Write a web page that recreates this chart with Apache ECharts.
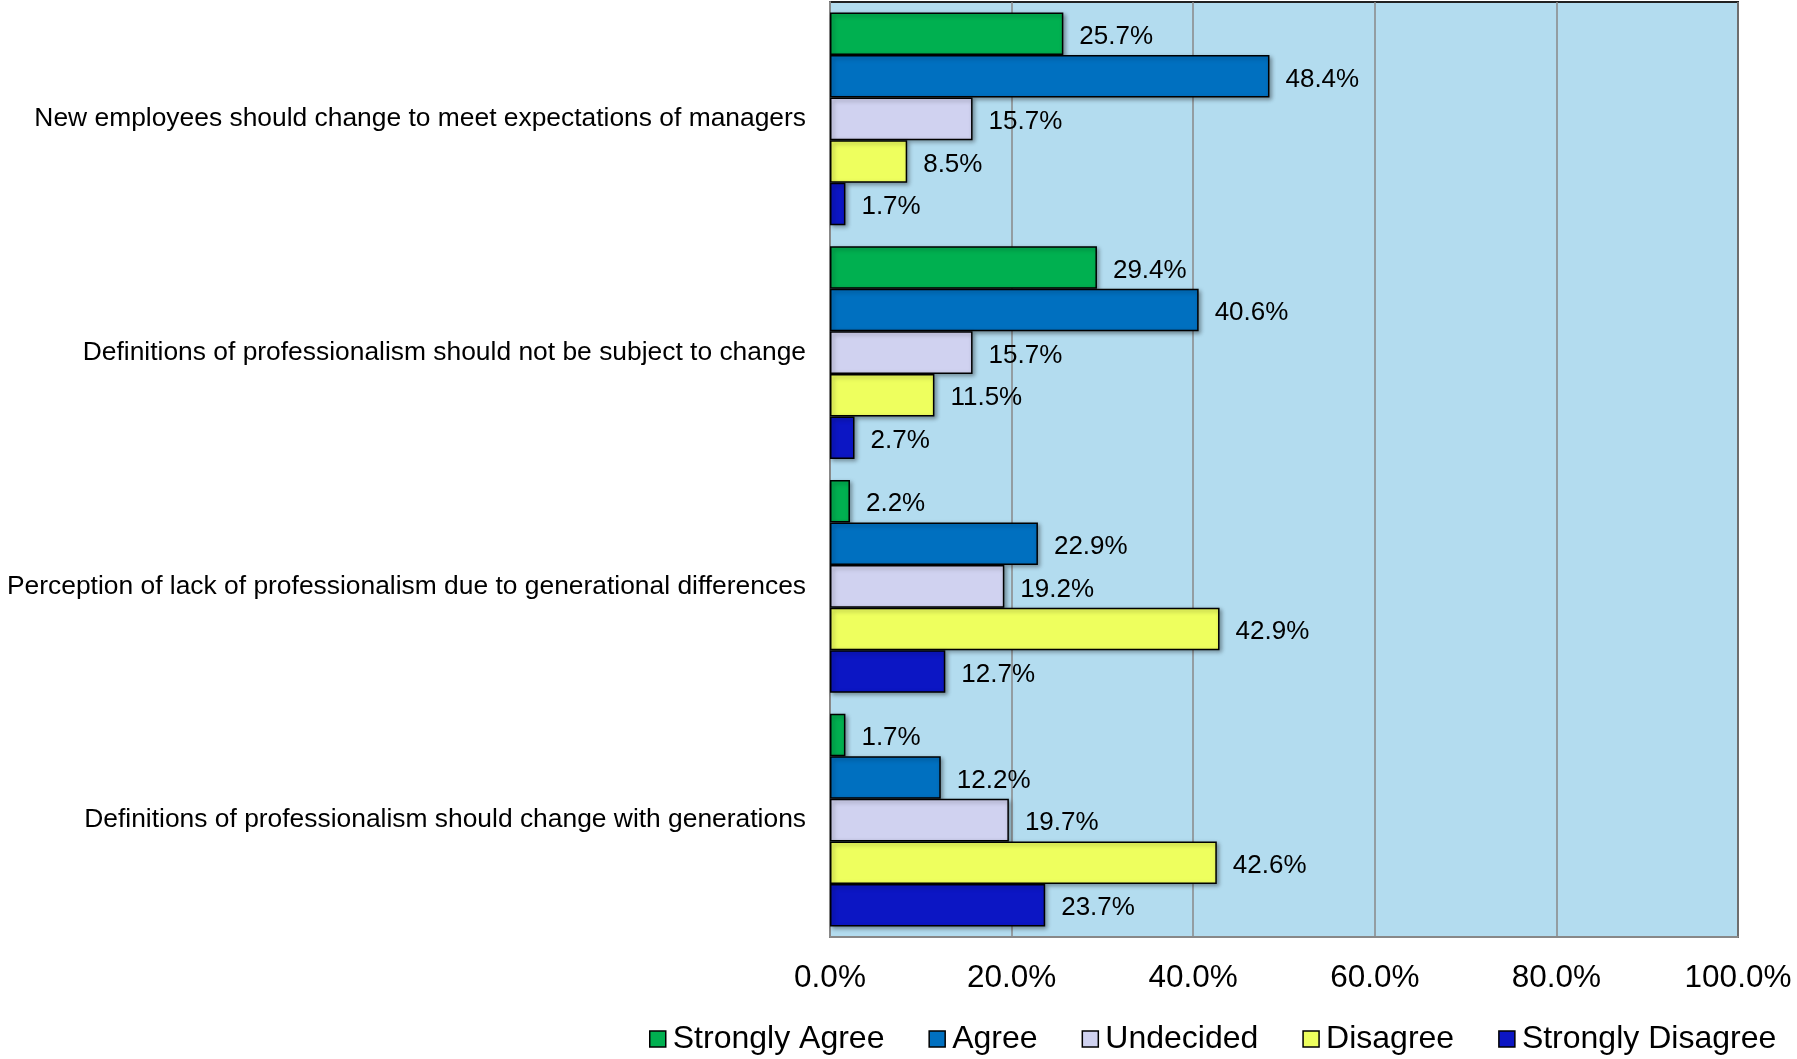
<!DOCTYPE html>
<html>
<head>
<meta charset="utf-8">
<script src="https://cdn.jsdelivr.net/npm/echarts@6/dist/echarts.min.js"></script>
<style>
html,body{margin:0;padding:0;background:#fff;}
#chart{width:1797px;height:1059px;}
</style>
</head>
<body>
<div id="chart"></div>
<script>
const categories = [
  "New employees should change to meet expectations of managers",
  "Definitions of professionalism should not be subject to change",
  "Perception of lack of professionalism due to generational differences",
  "Definitions of professionalism should change with generations"
];
const seriesNames = ["Strongly Agree", "Agree", "Undecided", "Disagree", "Strongly Disagree"];
const stronglyAgree = [25.7, 29.4, 2.2, 1.7];
const agree = [48.4, 40.6, 22.9, 12.2];
const undecided = [15.7, 15.7, 19.2, 19.7];
const disagree = [8.5, 11.5, 42.9, 42.6];
const stronglyDisagree = [1.7, 2.7, 12.7, 23.7];
const xTicks = [0, 20, 40, 60, 80, 100];

const colors = ["#00B050", "#0070C0", "#D0D2F0", "#EEFF5E", "#0C16C4"];
const values = [stronglyAgree, agree, undecided, disagree, stronglyDisagree];
const font = "Liberation Sans, Arial, sans-serif";

const chart = echarts.init(document.getElementById('chart'));
chart.setOption({
  animation: false,
  grid: {
    left: 830, right: 59, top: 2, bottom: 122,
    containLabel: false, outerBoundsMode: 'none',
    show: true, backgroundColor: '#B3DCEF', borderColor: '#222', borderWidth: 2
  },
  legend: {
    left: 644, top: 1018,
    itemWidth: 16, itemHeight: 16, itemGap: 44,
    icon: 'rect',
    textStyle: { fontFamily: font, fontSize: 32, color: '#000', padding: [0,0,0,2] },
    data: seriesNames.map((n, i) => ({ name: n, itemStyle: { color: colors[i], borderColor: '#000', borderWidth: 1.5 } }))
  },
  xAxis: {
    type: 'value', min: xTicks[0], max: xTicks[xTicks.length - 1], interval: 20,
    axisLine: { show: true, lineStyle: { color: '#888', width: 2 } },
    axisTick: { show: false },
    splitLine: { show: true, lineStyle: { color: '#888', width: 1.5 } },
    axisLabel: {
      fontFamily: font, fontSize: 31.5, color: '#000', margin: 25,
      formatter: v => v.toFixed(1) + '%'
    }
  },
  yAxis: {
    type: 'category', data: categories, inverse: true,
    axisLine: { show: true, lineStyle: { color: '#888', width: 2 } },
    axisTick: { show: false },
    axisLabel: { fontFamily: font, fontSize: 26.4, color: '#000', margin: 24 }
  },
  series: seriesNames.map((n, i) => ({
    name: n, type: 'bar', data: values[i],
    barGap: '0%', barCategoryGap: '9%',
    itemStyle: {
      color: colors[i], borderColor: '#000', borderWidth: 1.5,
      shadowColor: 'rgba(0,0,0,0.35)', shadowBlur: 4, shadowOffsetX: 2, shadowOffsetY: 2
    },
    label: {
      show: true, position: 'right', distance: 16, offset: [0, 3],
      fontFamily: font, fontSize: 26, color: '#000',
      formatter: p => p.value.toFixed(1) + '%'
    }
  }))
});
</script>
</body>
</html>
